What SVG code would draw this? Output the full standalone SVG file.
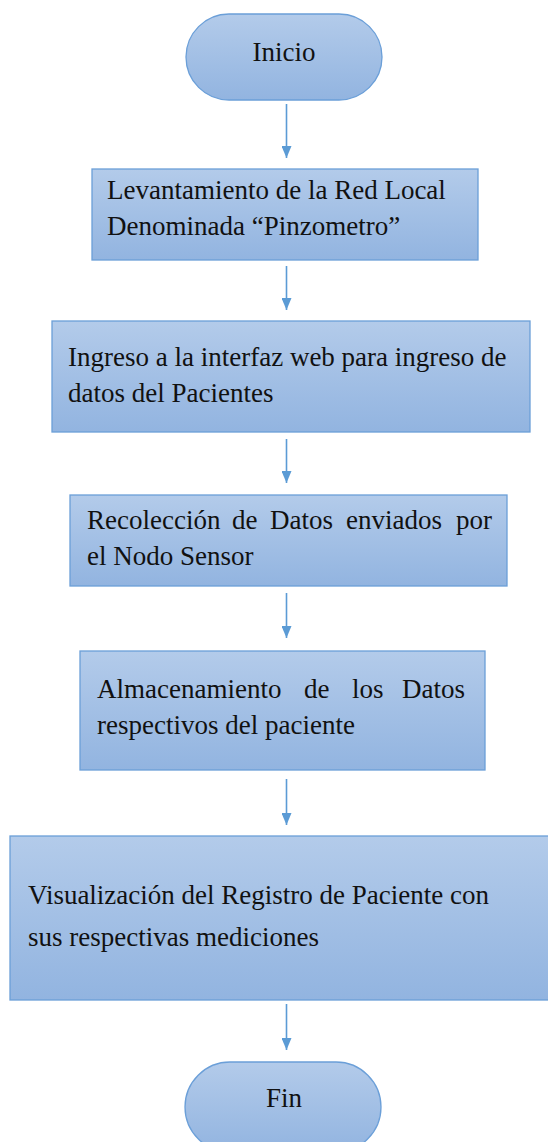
<svg xmlns="http://www.w3.org/2000/svg" width="548" height="1142" viewBox="0 0 548 1142">
<defs>
<linearGradient id="g" x1="0" y1="0" x2="0" y2="1">
<stop offset="0" stop-color="#b3cbea"/>
<stop offset="1" stop-color="#92b4e0"/>
</linearGradient>
<marker id="ah" viewBox="0 0 12 10" refX="12" refY="5" markerWidth="12" markerHeight="10" orient="auto" markerUnits="userSpaceOnUse">
<path d="M0,0 L12,5 L0,10 z" fill="#5b9bd5"/>
</marker>
<style>
.n{fill:url(#g);stroke:#6b9fd8;stroke-width:1.3}
.t{font-family:"Liberation Serif","Times New Roman",serif;font-size:27px;fill:#111}
.c{stroke:#5b9bd5;stroke-width:1.6;fill:none;marker-end:url(#ah)}
</style>
</defs>
<rect width="548" height="1142" fill="#fff"/>
<g id="connectors">
<line class="c" x1="286.5" y1="104" x2="286.5" y2="158"/>
<line class="c" x1="286.5" y1="266" x2="286.5" y2="310"/>
<line class="c" x1="286.5" y1="439" x2="286.5" y2="483"/>
<line class="c" x1="286.5" y1="593" x2="286.5" y2="638"/>
<line class="c" x1="286.5" y1="779" x2="286.5" y2="825"/>
<line class="c" x1="286.5" y1="1004" x2="286.5" y2="1050"/>
</g>
<g id="inicio">
<rect class="n" x="186" y="14" width="196" height="86" rx="43"/>
<text class="t" x="284" y="61" text-anchor="middle">Inicio</text>
</g>
<g id="levantamiento">
<rect class="n" x="92" y="169" width="386" height="91"/>
<text class="t" x="107" y="199">Levantamiento de la Red Local</text>
<text class="t" x="107" y="235">Denominada “Pinzometro”</text>
</g>
<g id="ingreso">
<rect class="n" x="52" y="321" width="478" height="111"/>
<text class="t" x="68" y="366">Ingreso a la interfaz web para ingreso de</text>
<text class="t" x="68" y="402">datos del Pacientes</text>
</g>
<g id="recoleccion">
<rect class="n" x="70" y="495" width="437" height="91"/>
<text class="t" y="529"><tspan x="87">Recolección</tspan><tspan x="232">de</tspan><tspan x="270">Datos</tspan><tspan x="346">enviados</tspan><tspan x="456">por</tspan></text>
<text class="t" x="87" y="565">el Nodo Sensor</text>
</g>
<g id="almacenamiento">
<rect class="n" x="80" y="651" width="405" height="119"/>
<text class="t" y="698"><tspan x="97">Almacenamiento</tspan><tspan x="304">de</tspan><tspan x="352">los</tspan><tspan x="402">Datos</tspan></text>
<text class="t" x="97" y="734">respectivos del paciente</text>
</g>
<g id="visualizacion">
<rect class="n" x="10" y="836" width="545" height="164"/>
<text class="t" x="28" y="904">Visualización del Registro de Paciente con</text>
<text class="t" x="28" y="946">sus respectivas mediciones</text>
</g>
<g id="fin">
<rect class="n" x="185" y="1062" width="196" height="90" rx="45"/>
<text class="t" x="284" y="1107" text-anchor="middle">Fin</text>
</g>
</svg>
